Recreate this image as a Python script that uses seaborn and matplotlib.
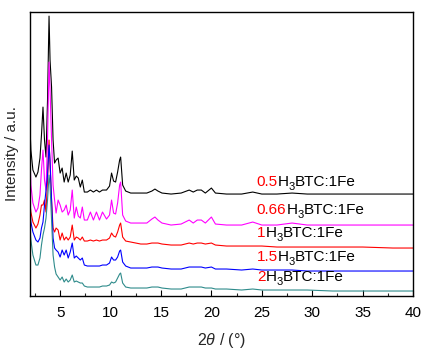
import matplotlib
matplotlib.use("Agg")
import matplotlib.pyplot as plt
import seaborn as sns
import numpy as np
from matplotlib.ticker import MultipleLocator, NullLocator


# 2theta positions (deg) shared by all patterns
two_theta = [2.0, 2.1, 2.3, 2.6, 2.8, 3.0, 3.15, 3.3, 3.45, 3.6, 3.75, 3.9, 4.0, 4.15,
             4.3, 4.45, 4.6, 4.8, 5.0, 5.2, 5.4, 5.6, 5.8, 6.0, 6.2, 6.4, 6.6, 6.8,
             7.0, 7.2, 7.4, 7.7, 8.0, 8.3, 8.6, 8.9, 9.2, 9.6, 9.9, 10.1, 10.3, 10.5,
             10.7, 10.9, 11.0, 11.2, 11.5, 12.0, 12.5, 13.0, 13.6, 14.1, 14.4, 14.7,
             15.1, 16.0, 17.0, 17.8, 18.2, 18.6, 19.0, 19.4, 20.0, 20.4, 21.5, 23.0,
             24.1, 25.0, 26.5, 28.0, 29.5, 32.0, 35.0, 38.0, 40.0]

# intensities (a.u., already stacked)
int_05 = [171, 146, 126, 119, 124, 138, 161, 189, 156, 139, 196, 280, 236, 209,
          156, 133, 136, 138, 123, 128, 114, 123, 114, 121, 145, 116, 120, 118,
          109, 116, 104, 104, 106, 104, 106, 104, 106, 106, 110, 123, 115, 114,
          124, 136, 139, 111, 105, 103, 103, 103, 103, 105, 107, 105,
          103, 102, 103, 106, 104, 106, 106, 103, 108, 103, 102, 102,
          104, 102, 102, 103, 102, 102, 102, 102, 102]
int_066 = [144, 111, 93, 84, 88, 101, 126, 146, 116, 106, 156, 234, 206, 156,
           111, 96, 83, 96, 91, 84, 86, 91, 81, 86, 106, 78, 89, 80,
           78, 89, 76, 76, 84, 76, 84, 76, 84, 77, 81, 96, 83, 82,
           93, 111, 114, 81, 75, 73, 73, 73, 73, 77, 79, 76,
           73, 71, 72, 76, 73, 76, 76, 73, 79, 72, 71, 71,
           74, 71, 71, 73, 71, 71, 71, 71, 71]
int_1 = [93, 84, 74, 68, 72, 81, 91, 91, 96, 84, 116, 156, 131, 96,
         68, 64, 68, 66, 56, 63, 56, 59, 56, 59, 71, 56, 59, 58,
         56, 59, 55, 55, 56, 55, 56, 55, 56, 56, 58, 63, 60, 59,
         64, 71, 73, 59, 55, 54, 53, 52, 52, 53, 53, 53,
         52, 51, 51, 53, 52, 53, 53, 52, 53, 51, 50, 50,
         50, 50, 49, 49, 49, 49, 49, 48, 48]
int_15 = [88, 74, 64, 56, 54, 58, 68, 74, 91, 106, 121, 151, 136, 96,
          58, 48, 46, 44, 39, 46, 41, 46, 38, 44, 53, 38, 40, 38,
          36, 38, 31, 30, 30, 30, 30, 30, 31, 31, 33, 39, 36, 36,
          39, 45, 46, 34, 30, 28, 28, 28, 28, 29, 29, 29,
          28, 27, 27, 29, 29, 29, 29, 28, 29, 27, 27, 26,
          27, 26, 26, 26, 25, 25, 25, 25, 25]
int_2 = [68, 56, 41, 31, 31, 38, 51, 61, 68, 78, 96, 121, 111, 76,
         41, 29, 22, 19, 16, 19, 14, 17, 14, 16, 21, 14, 15, 14,
         13, 13, 10, 9, 9, 9, 9, 9, 10, 10, 11, 14, 13, 14,
         18, 22, 23, 13, 9, 8, 8, 8, 8, 9, 9, 9,
         8, 7, 7, 9, 9, 9, 9, 8, 8, 7, 7, 6,
         7, 6, 6, 6, 6, 5, 5, 5, 5]

ratios = ["0.5", "0.66", "1", "1.5", "2"]
label_y = [110, 82, 59, 35, 15]
colors = ["black", "#FF00FF", "#FF0000", "#0000FF", "#2E8B8B"]

sns.set_style("ticks")
plt.rcParams["font.family"] = ["Liberation Sans", "DejaVu Sans"]
plt.rcParams["mathtext.fontset"] = "custom"
plt.rcParams["mathtext.rm"] = "Liberation Sans"
plt.rcParams["mathtext.it"] = "Liberation Sans:italic"

fig = plt.figure(figsize=(4.33, 3.56), dpi=100)
ax = fig.add_axes([0.069, 0.1685, 0.885, 0.7975])

series = [int_05, int_066, int_1, int_15, int_2]
for ys, c in zip(series, colors):
    sns.lineplot(x=two_theta, y=ys, color=c, lw=0.8, ax=ax)

ax.set_xlim(2, 40)
ax.set_ylim(0, 284)

# sample labels: red ratio + H, subscript 3, BTC:1Fe written piece by piece
fig.canvas.draw()
renderer = fig.canvas.get_renderer()
inv = ax.transData.inverted()
for r, yy in zip(ratios, label_y):
    pieces = [(r, "red", 11, 0), ("H", "black", 11, 0), ("3", "black", 8, -4),
              ("BTC:1Fe", "black", 11, 0)]
    x = 24.5
    for s, c, fs, dy in pieces:
        t = ax.text(x, yy + dy, s, color=c, fontsize=fs, va="baseline", ha="left")
        bb = t.get_window_extent(renderer)
        x = inv.transform((bb.x1, 0))[0]

ax.xaxis.set_major_locator(MultipleLocator(5))
ax.xaxis.set_minor_locator(MultipleLocator(2.5))
ax.yaxis.set_major_locator(NullLocator())
ax.tick_params(axis="x", which="major", direction="in", length=4, width=0.8,
               labelsize=11, pad=7, colors="black")
ax.tick_params(axis="x", which="minor", direction="in", length=2.5, width=0.8)
for s in ax.spines.values():
    s.set_linewidth(1.0)
    s.set_color("black")

ax.set_xlabel(r"2$\theta$ / (°)", fontsize=11.5, labelpad=8)
ax.set_ylabel("Intensity / a.u.", fontsize=11, labelpad=8)

fig.savefig("out.png", dpi=100)
